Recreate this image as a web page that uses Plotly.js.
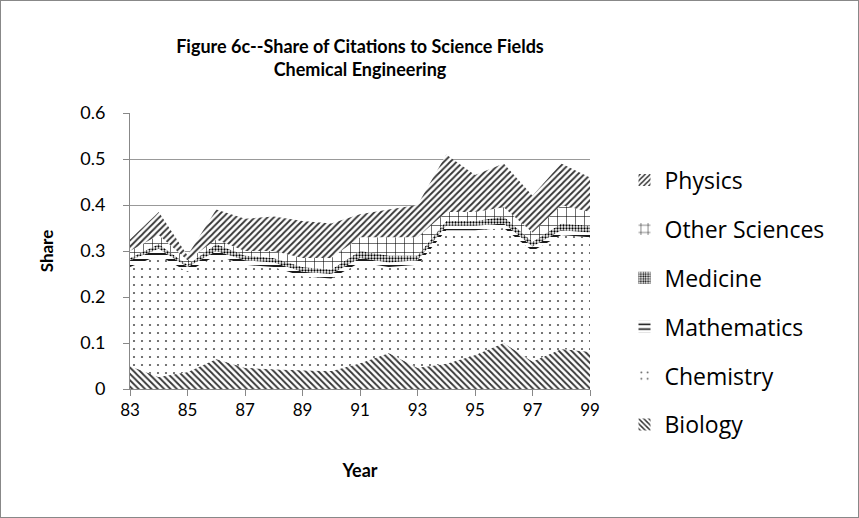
<!DOCTYPE html>
<html>
<head>
<meta charset="utf-8">
<script src="https://cdn.plot.ly/plotly-3.0.1.min.js"></script>
<style>
html,body{margin:0;padding:0;background:#fff;}
#frame{width:859px;height:518px;box-sizing:border-box;border:1px solid #888;}
#chart{width:857px;height:516px;}
</style>
</head>
<body>
<div id="frame"><div id="chart"></div></div>
<script>
var years = [83,84,85,86,87,88,89,90,91,92,93,94,95,96,97,98,99];
var xTickVals = [83,85,87,89,91,93,95,97,99];
var xTickText = ["83","85","87","89","91","93","95","97","99"];
var yTickVals = [0,0.1,0.2,0.3,0.4,0.5,0.6];
var yTickText = ["0","0.1","0.2","0.3","0.4","0.5","0.6"];

var biology   = [0.050,0.026,0.037,0.065,0.046,0.043,0.041,0.039,0.056,0.078,0.046,0.055,0.074,0.100,0.060,0.087,0.081];
var chemistry = [0.215,0.264,0.218,0.225,0.224,0.222,0.204,0.201,0.219,0.187,0.224,0.290,0.271,0.250,0.240,0.248,0.249];
var mathematics = [0.015,0.015,0.010,0.010,0.010,0.010,0.010,0.010,0.010,0.010,0.010,0.010,0.010,0.010,0.010,0.010,0.010];
var medicine  = [0.005,0.010,0.005,0.015,0.010,0.010,0.010,0.010,0.015,0.015,0.010,0.010,0.010,0.015,0.010,0.015,0.015];
var otherSci  = [0.015,0.020,0.010,0.010,0.010,0.015,0.020,0.025,0.030,0.040,0.040,0.020,0.020,0.020,0.020,0.040,0.030];
var physics   = [0.025,0.050,0.010,0.065,0.070,0.075,0.080,0.075,0.050,0.060,0.070,0.125,0.080,0.095,0.080,0.090,0.075];

var names = ["Biology","Chemistry","Mathematics","Medicine","Other Sciences","Physics"];
var series = [biology, chemistry, mathematics, medicine, otherSci, physics];
var patterns = [
  {shape:"\\", size:4.5, solidity:0.4, fgcolor:"#333", bgcolor:"#fff"},
  {shape:".", size:8, solidity:0.06, fgcolor:"#555", bgcolor:"#fff"},
  {shape:"-", size:6, solidity:0.3, fgcolor:"#000", bgcolor:"#fff"},
  {shape:".", size:3, solidity:0.45, fgcolor:"#000", bgcolor:"#fff"},
  {shape:"+", size:9, solidity:0.12, fgcolor:"#000", bgcolor:"#fff"},
  {shape:"/", size:4.5, solidity:0.4, fgcolor:"#333", bgcolor:"#fff"}
];

var traces = series.map(function(vals, i){
  return {
    x: years, y: vals, name: names[i], type: "scatter", mode: "none",
    stackgroup: "one", fillcolor: "#fff", fillpattern: patterns[i],
    line: {width: 0}, showlegend: false, hoverinfo: "skip"
  };
});
// legend swatches (small squares, like the reference)
names.forEach(function(n, i){
  traces.push({
    x: [years[0]], y: [null], name: n, type: "bar",
    marker: {color: "#fff", line: {width: 0}, pattern: patterns[i]},
    legendrank: 10 - i, legendgroup: n, showlegend: true, hoverinfo: "skip"
  });
});

var font = "Lato, 'Open Sans', 'Liberation Sans', sans-serif";
var legFont = "'Open Sans', Lato, sans-serif";
var layout = {
  width: 857, height: 516,
  margin: {l: 129, r: 268, t: 112, b: 128},
  paper_bgcolor: "#fff", plot_bgcolor: "#fff",
  font: {family: font, color: "#000", size: 17},
  title: {
    text: "<b>Figure 6c--Share of Citations to Science Fields<br>Chemical Engineering</b>",
    font: {family: font, size: 18, color: "#000"},
    xref: "paper", x: 0.5, xanchor: "center",
    yref: "container", y: 0.90, yanchor: "top"
  },
  xaxis: {
    range: [83, 99], tickvals: xTickVals, ticktext: xTickText,
    showgrid: false, zeroline: false,
    showline: true, linecolor: "#888", linewidth: 1,
    ticks: "outside", ticklen: 6, tickcolor: "#888",
    tickfont: {size: 17},
    title: {text: "<b>Year</b>", font: {size: 18}, standoff: 44}
  },
  yaxis: {
    range: [0, 0.6], tickvals: yTickVals, ticktext: yTickText,
    showgrid: true, gridcolor: "#999", gridwidth: 1,
    zeroline: false, showline: true, linecolor: "#888", linewidth: 1,
    ticks: "outside", ticklen: 6, tickcolor: "#888",
    ticklabelstandoff: 14,
    tickfont: {size: 18},
    title: {text: "<b>Share</b>", font: {size: 17}, standoff: 22}
  },
  barmode: "overlay",
  showlegend: true,
  legend: {
    x: 1.075, xanchor: "left", y: 0.835, yanchor: "top",
    traceorder: "grouped", tracegroupgap: 16,
    font: {family: legFont, size: 23, color: "#000"},
    itemwidth: 30, maxheight: 400, bgcolor: "rgba(0,0,0,0)"
  }
};

Plotly.newPlot("chart", traces, layout, {staticPlot: true, displayModeBar: false});
</script>
</body>
</html>
